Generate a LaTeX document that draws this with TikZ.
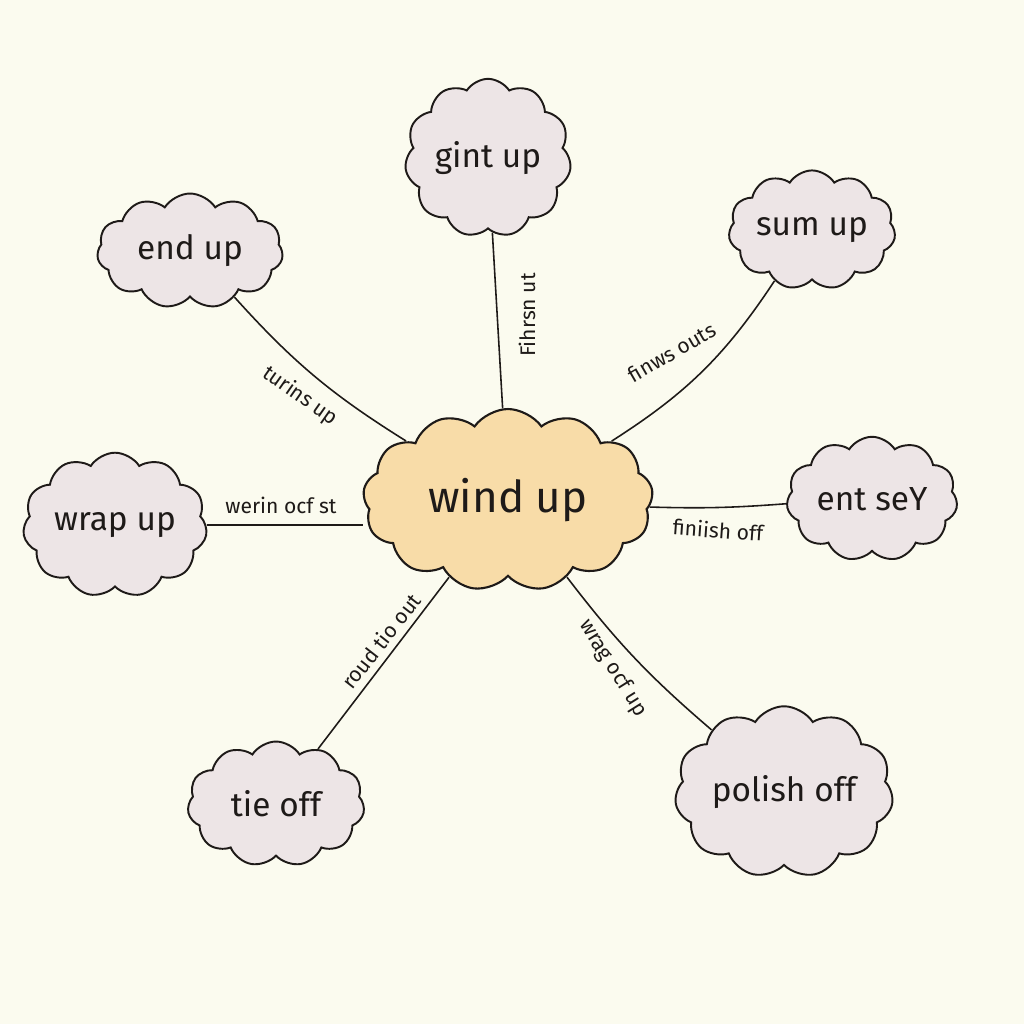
\documentclass[tikz,border=0pt]{standalone}
\usepackage{fontspec}
\setmainfont{Fira Sans}
\usetikzlibrary{shapes.symbols}
\definecolor{bg}{HTML}{FBFBEF}
\definecolor{puff}{HTML}{EDE5E6}
\definecolor{core}{HTML}{F8DCA8}
\definecolor{ink}{HTML}{1E1A18}
\tikzset{
  leaf/.style={shape=cloud, cloud puffs=11, cloud puff arc=115, draw=ink, line width=1.1pt, fill=puff, inner sep=0pt, font=\fontsize{19}{19}\selectfont, text=ink},
  hub/.style={shape=cloud, cloud puffs=13, cloud puff arc=110, draw=ink, line width=1.2pt, fill=core, inner sep=0pt, font=\fontsize{25}{25}\selectfont, text=ink},
  link/.style={draw=ink, line width=0.9pt},
  lbl/.style={font=\fontsize{12}{12}\selectfont, text=ink, inner sep=1pt}
}
\begin{document}
\begin{tikzpicture}[x=0.02cm,y=-0.02cm]
\fill[bg] (0,0) rectangle (1024,1024);
\useasboundingbox (0,0) rectangle (1024,1024);
% hub
\node[hub, minimum width=5.8cm, minimum height=3.64cm, aspect=1.6] (hub) at (508,500) {wind up};
% leaves
\node[leaf, minimum width=2.46cm, minimum height=2.3cm, aspect=1.07] (gint) at (488,158) {gint up};
\node[leaf, minimum width=3.3cm, minimum height=2.08cm, aspect=1.6] (sum) at (812,230) {sum up};
\node[leaf, minimum width=3.72cm, minimum height=2.3cm, aspect=1.6] (end) at (190,251) {end up};
\node[leaf, minimum width=3.42cm, minimum height=2.24cm, aspect=1.5] (ent) at (872,499) {ent seY};
\node[leaf, minimum width=3.2cm, minimum height=2.3cm, aspect=1.4] (wrap) at (115,525) {wrap up};
\node[leaf, minimum width=3.54cm, minimum height=2.5cm, aspect=1.4] (tie) at (276,804) {tie off};
\node[leaf, minimum width=3.76cm, minimum height=2.7cm, aspect=1.4] (polish) at (784,792) {polish off};
% connectors
\draw[link] (gint) -- (hub);
\draw[link] (end) to[bend right=8] (hub);
\draw[link] (sum) to[bend left=12] (hub);
\draw[link] (wrap.east) -- (wrap.east -| hub.west);
\draw[link] (ent) to[bend left=3] (hub);
\draw[link] (tie) -- (hub);
\draw[link] (polish) to[bend left=6] (hub);
% labels
\node[lbl, rotate=90] (l1) at (527,315) {Fihrsn ut};
\node[lbl, rotate=-35] (l2) at (300,396) {turins up};
\node[lbl, rotate=30] (l3) at (672,352) {finws outs};
\node[lbl] (l4) at (281,505) {werin ocf st};
\node[lbl, rotate=-4] (l5) at (718,530) {finiish off};
\node[lbl, rotate=52] (l6) at (381,641) {roud tio out};
\node[lbl, rotate=-58] (l7) at (613,668) {wrag ocf up};
\end{tikzpicture}
\end{document}
